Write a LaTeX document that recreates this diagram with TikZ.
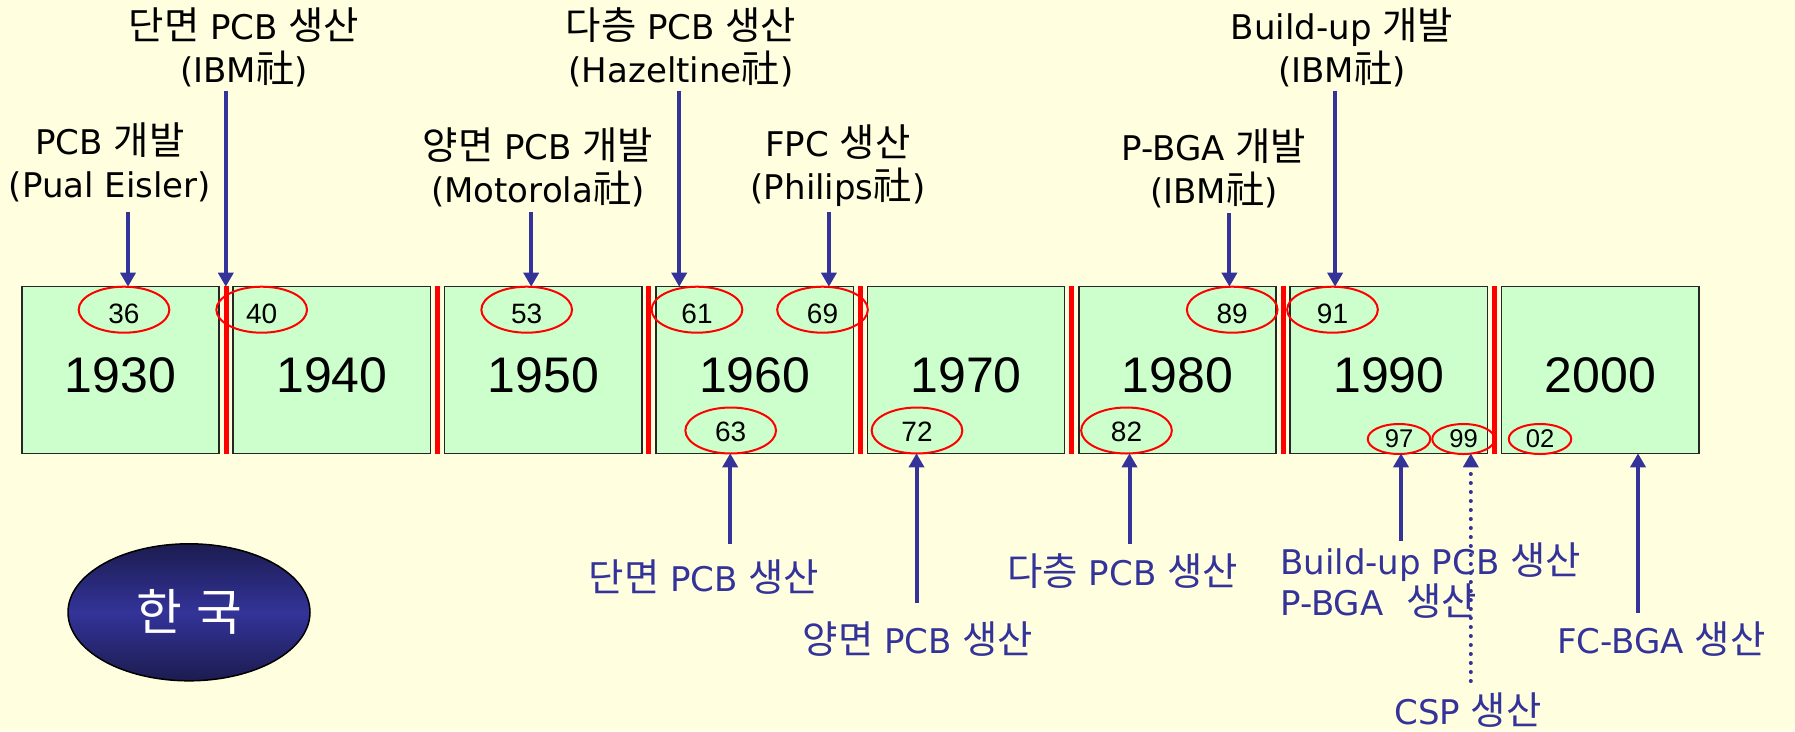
\documentclass[tikz,border=0pt]{standalone}
\usepackage{fontspec}
\setmainfont{DejaVu Sans}
\newfontfamily\krfont[Scale=1.13]{Noto Sans CJK KR}
\newfontfamily\numfont{Liberation Sans}
\usetikzlibrary{arrows.meta,shapes.geometric,calc}
\definecolor{paper}{HTML}{FFFFE0}
\definecolor{boxgreen}{HTML}{CCFFCC}
\definecolor{navy}{HTML}{333399}
\definecolor{navydark}{HTML}{1C1C50}
\begin{document}
\begin{tikzpicture}[x=1pt,y=-1pt,
  yearbox/.style={draw=black!85,line width=1.5pt,fill=boxgreen,
    minimum width=197.3pt,minimum height=166.6pt,inner sep=0pt,
    font=\numfont\fontsize{50}{50}\selectfont,text height=45pt},
  sepbar/.style={draw=red,line width=5pt},
  topmark/.style={ellipse,draw=red,line width=2pt,inner sep=0pt,
    minimum width=90.7pt,minimum height=46pt,
    font=\numfont\fontsize{28}{28}\selectfont,text height=27pt},
  lowmark/.style={topmark,text height=22.5pt},
  smallmark/.style={ellipse,draw=red,line width=2pt,inner sep=0pt,
    minimum width=62.5pt,minimum height=30pt,
    font=\numfont\fontsize{25.6}{25.6}\selectfont},
  toplabel/.style={align=center,inner sep=0pt,anchor=south,
    font=\fontsize{34}{43}\selectfont},
  botlabel/.style={inner sep=0pt,anchor=north,text=navy,
    font=\fontsize{34}{41}\selectfont},
  arr/.style={draw=navy,line width=4pt,-{Triangle[length=14pt,width=15pt]}},
  dotarr/.style={draw=navy,line width=4pt,line cap=round,
    dash pattern=on 0pt off 9pt,-{Triangle[length=14pt,width=15pt]}}
]
% canvas
\fill[paper] (0,0) rectangle (1795,731);
\useasboundingbox (0,0) rectangle (1795,731);

% decade boxes
\foreach \yr [count=\i from 0] in {1930,1940,...,2000}
  \node[yearbox] (b\yr) at (120.45+211.4*\i,370) {\yr};

% red separators between decades
\foreach \a/\b in {1930/1940,1940/1950,1950/1960,1960/1970,1970/1980,1980/1990,1990/2000}
  \draw[sepbar] ($(b\a.north east)!.5!(b\b.north west)$) -- ($(b\a.south east)!.5!(b\b.south west)$);

% year marks
\node[topmark] (m36) at (124,309.7) {36};
\node[topmark] (m40) at (261.7,309.7) {40};
\node[topmark] (m53) at (526.7,309.7) {53};
\node[topmark] (m61) at (697,309.7) {61};
\node[topmark] (m69) at (822.5,309.7) {69};
\node[topmark] (m89) at (1232.2,309.7) {89};
\node[topmark] (m91) at (1332.5,309.7) {91};
\node[lowmark] (m63) at (730.7,430.5) {63};
\node[lowmark] (m72) at (917,430.5) {72};
\node[lowmark] (m82) at (1126.5,430.5) {82};
\node[smallmark] (m97) at (1399,439) {97};
\node[smallmark] (m99) at (1463.5,439) {99};
\node[smallmark] (m02) at (1540,439) {02};

% world milestones (above)
\node[toplabel] (l36) at (110,201.7) {PCB {\krfont 개발}\\(Pual Eisler)};
\node[toplabel] (l40) at (244,87.3) {{\krfont 단면} PCB {\krfont 생산}\\(IBM{\krfont 社})};
\node[toplabel] (l53) at (538,206.7) {{\krfont 양면} PCB {\krfont 개발}\\(Motorola{\krfont 社})};
\node[toplabel] (l61) at (681,87.3) {{\krfont 다층} PCB {\krfont 생산}\\(Hazeltine{\krfont 社})};
\node[toplabel] (l69) at (838,206.7) {FPC {\krfont 생산}\\(Philips{\krfont 社})};
\node[toplabel] (l89) at (1214,208.3) {P-BGA {\krfont 개발}\\(IBM{\krfont 社})};
\node[toplabel] (l91) at (1342,87.3) {Build-up {\krfont 개발}\\(IBM{\krfont 社})};

\coordinate (a36) at (128,286.7);
\coordinate (a40) at (225.8,286.7);
\coordinate (a53) at (531.2,286.7);
\coordinate (a61) at (679.2,286.7);
\coordinate (a69) at (828.9,286.7);
\coordinate (a89) at (1229.4,286.7);
\coordinate (a91) at (1335.1,286.7);

\draw[arr,shorten <=10pt] (l36.south -| a36) -- (a36);
\draw[arr,shorten <=3.4pt] (l40.south -| a40) -- (a40);
\draw[arr,shorten <=5pt] (l53.south -| a53) -- (a53);
\draw[arr,shorten <=3.4pt] (l61.south -| a61) -- (a61);
\draw[arr,shorten <=5pt] (l69.south -| a69) -- (a69);
\draw[arr,shorten <=4.4pt] (l89.south -| a89) -- (a89);
\draw[arr,shorten <=3.4pt] (l91.south -| a91) -- (a91);

% Korean milestones (below)
\node[botlabel] (l63) at (704,560) {{\krfont 단면} PCB {\krfont 생산}};
\node[botlabel] (l72) at (918,622) {{\krfont 양면} PCB {\krfont 생산}};
\node[botlabel] (l82) at (1122.6,553) {{\krfont 다층} PCB {\krfont 생산}};
\node[botlabel,anchor=north west,align=left] (l97) at (1280,543)
  {Build-up PCB {\krfont 생산}\\P-BGA\hspace{12pt} {\krfont 생산}};
\node[botlabel] (l99) at (1468,693) {CSP {\krfont 생산}};
\node[botlabel] (l02) at (1661.4,622) {FC-BGA {\krfont 생산}};

\coordinate (a63) at (730.2,453.3);
\coordinate (a72) at (916.5,453.3);
\coordinate (a82) at (1129.5,453.3);
\coordinate (a97) at (1401,453.3);
\coordinate (a99) at (1470.8,453.3);
\coordinate (a02) at (1638,453.3);

\draw[arr,shorten <=16pt] (l63.north -| a63) -- (a63);
\draw[arr,shorten <=19pt] (l72.north -| a72) -- (a72);
\draw[arr,shorten <=9pt] (l82.north -| a82) -- (a82);
\draw[arr,shorten <=2.3pt] (l97.north -| a97) -- (a97);
\draw[dotarr,shorten <=12pt] (l99.north -| a99) -- (a99);
\draw[arr,shorten <=9pt] (l02.north -| a02) -- (a02);

% country badge
\node[ellipse,draw=black,line width=1.5pt,minimum width=242pt,minimum height=137pt,
  top color=navydark,bottom color=navydark,middle color=navy,text=white,
  font=\krfont\fontsize{44}{44}\selectfont] (korea) at (189,612.3) {한\hspace{3pt} 국};
\end{tikzpicture}
\end{document}
